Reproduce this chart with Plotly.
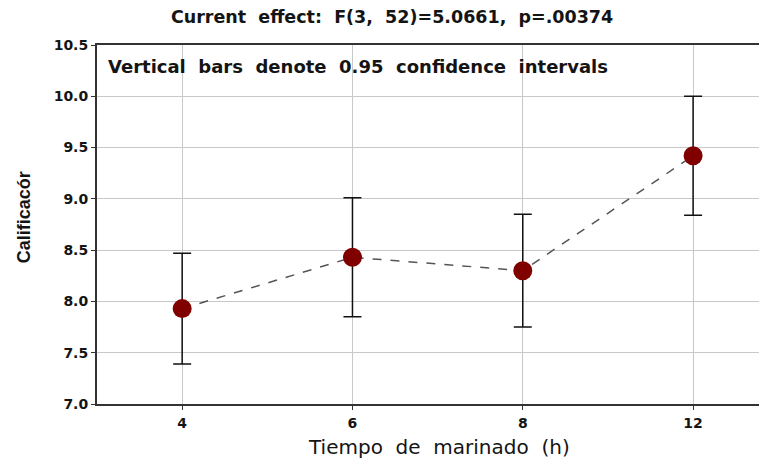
import plotly.graph_objects as go

categories = ["4", "6", "8", "12"]
means = [7.93, 8.43, 8.30, 9.42]
ci_half = [0.54, 0.58, 0.55, 0.58]
y_ticks = [7.0, 7.5, 8.0, 8.5, 9.0, 9.5, 10.0, 10.5]

TXT = "#141414"
TICKFONT = dict(size=14, family="DejaVu Sans", weight="bold", color=TXT)

fig = go.Figure()
fig.add_trace(go.Scatter(
    x=list(range(len(categories))), y=means,
    mode="lines+markers",
    line=dict(color="#555555", width=1.5, dash="dash"),
    marker=dict(color="#800000", size=19),
    error_y=dict(type="data", array=ci_half, color="#111111", thickness=1.5, width=9),
    showlegend=False,
))

fig.update_layout(
    width=759, height=451,
    margin=dict(l=89, r=0, t=37, b=55),
    paper_bgcolor="white", plot_bgcolor="white",
    font=dict(family="DejaVu Sans", color=TXT),
    title=dict(text="Current  effect:  F(3,  52)=5.0661,  p=.00374", x=0.506, xanchor="center",
               y=0.98, yanchor="middle",
               font=dict(size=17.5, family="DejaVu Sans", weight="bold", color=TXT)),
    xaxis=dict(
        tickmode="array", tickvals=list(range(len(categories))), ticktext=categories,
        range=[-0.5, 3.434], showgrid=True, gridcolor="#c8c8c8", gridwidth=1,
        showline=True, linecolor="#333333", linewidth=2, mirror=True,
        ticks="outside", ticklen=4, tickcolor="#333333", ticklabelstandoff=1,
        tickfont=TICKFONT, zeroline=False,
    ),
    yaxis=dict(
        range=[7.0, 10.5], tickmode="array", tickvals=y_ticks,
        ticktext=[f"{v:.1f}" for v in y_ticks],
        showgrid=True, gridcolor="#c8c8c8", gridwidth=1,
        showline=True, linecolor="#333333", linewidth=2,
        ticks="outside", ticklen=4, tickcolor="#333333",
        tickfont=TICKFONT, zeroline=False,
    ),
    annotations=[
        dict(text="Vertical  bars  denote  0.95  confidence  intervals",
             xref="paper", yref="paper", x=0.014, y=0.939, xanchor="left", yanchor="middle",
             showarrow=False, font=dict(size=18, family="DejaVu Sans", weight="bold", color=TXT)),
        dict(text="Tiempo  de  marinado  (h)",
             xref="paper", yref="paper", x=0.51, y=-0.121, xanchor="center", yanchor="middle",
             showarrow=False, font=dict(size=20, family="DejaVu Sans", color=TXT)),
        dict(text="Calificacór", textangle=-90,
             xref="paper", yref="paper", x=-0.109, y=0.52, xanchor="center", yanchor="middle",
             showarrow=False, font=dict(size=18, family="Liberation Sans", weight="bold", color=TXT)),
    ],
)

fig.write_html("out.html")
